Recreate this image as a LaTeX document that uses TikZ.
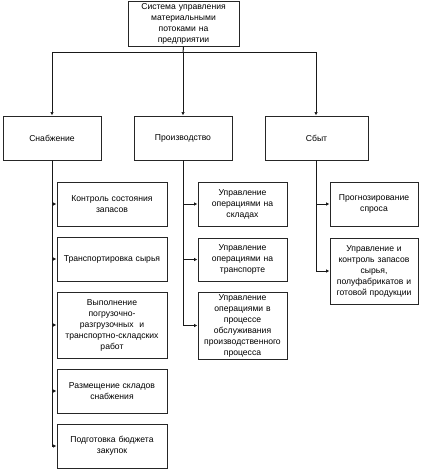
\documentclass[tikz,border=0pt]{standalone}
\usepackage{fontspec}
\setmainfont{Liberation Sans}
\usetikzlibrary{arrows.meta}
\tikzset{
  box/.style={draw=black!85, line width=0.9pt, align=center, inner sep=1pt, font=\fontsize{8.6}{11}\selectfont},
  conn/.style={line width=1pt, draw=black!90, -{Latex[length=3.5pt,width=3.5pt]}},
  plain/.style={line width=1pt, draw=black!90}
}
\begin{document}
\begin{tikzpicture}[x=1pt,y=-1pt]
\useasboundingbox (0,0) rectangle (423,470);
\node[box, minimum width=111pt, minimum height=45pt, text width=109pt] (top) at (183.5,23.5) {Система управления\\материальными\\потоками на\\предприятии};
\node[box, minimum width=98pt, minimum height=44pt, text width=96pt] (snab) at (52,138) {Снабжение};
\node[box, minimum width=98pt, minimum height=44pt, text width=96pt] (prod) at (183,138) {Производство};
\node[box, minimum width=103pt, minimum height=44pt, text width=101pt] (sbyt) at (316.5,138) {Сбыт};
% Snabzhenie children
\node[box, minimum width=110pt, minimum height=44pt, text width=108pt] (s1) at (112,204) {Контроль состояния\\запасов};
\node[box, minimum width=110pt, minimum height=44pt, text width=108pt] (s2) at (112,259) {Транспортировка сырья};
\node[box, minimum width=110pt, minimum height=66pt, text width=108pt] (s3) at (112,325) {Выполнение\\погрузочно-\\разгрузочных\ \ и\\транспортно-складских\\работ};
\node[box, minimum width=110pt, minimum height=44pt, text width=108pt] (s4) at (112,391) {Размещение складов\\снабжения};
\node[box, minimum width=110pt, minimum height=44pt, text width=108pt] (s5) at (112,446) {Подготовка бюджета\\закупок};
% Proizvodstvo children
\node[box, minimum width=89pt, minimum height=44pt, text width=87pt] (p1) at (242.5,204) {Управление\\операциями на\\складах};
\node[box, minimum width=89pt, minimum height=43pt, text width=87pt] (p2) at (242.5,259.5) {Управление\\операциями на\\транспорте};
\node[box, minimum width=89pt, minimum height=67pt, text width=87pt] (p3) at (242.5,325.5) {Управление\\операциями в\\процессе\\обслуживания\\производственного\\процесса};
% Sbyt children
\node[box, minimum width=88pt, minimum height=44pt, text width=86pt] (b1) at (374,204) {Прогнозирование\\спроса};
\node[box, minimum width=88pt, minimum height=66pt, text width=86pt] (b2) at (374,271) {Управление и\\контроль запасов\\сырья,\\полуфабрикатов и\\готовой продукции};
% connectors
\coordinate (j) at (183,53);
\draw[plain] (top.south) -- (j);
\draw[conn] (j) -| (snab.north);
\draw[conn] (j) -- (prod.north);
\draw[conn] (j) -| ([xshift=-0.5pt]sbyt.north);
\foreach \c in {s1,s2,s3,s4,s5} \draw[conn] (snab.south) |- (\c.west);
\foreach \c in {p1,p2,p3} \draw[conn] (prod.south) |- (\c.west);
\foreach \c in {b1,b2} \draw[conn] ([xshift=-0.5pt]sbyt.south) |- (\c.west);
\end{tikzpicture}
\end{document}
